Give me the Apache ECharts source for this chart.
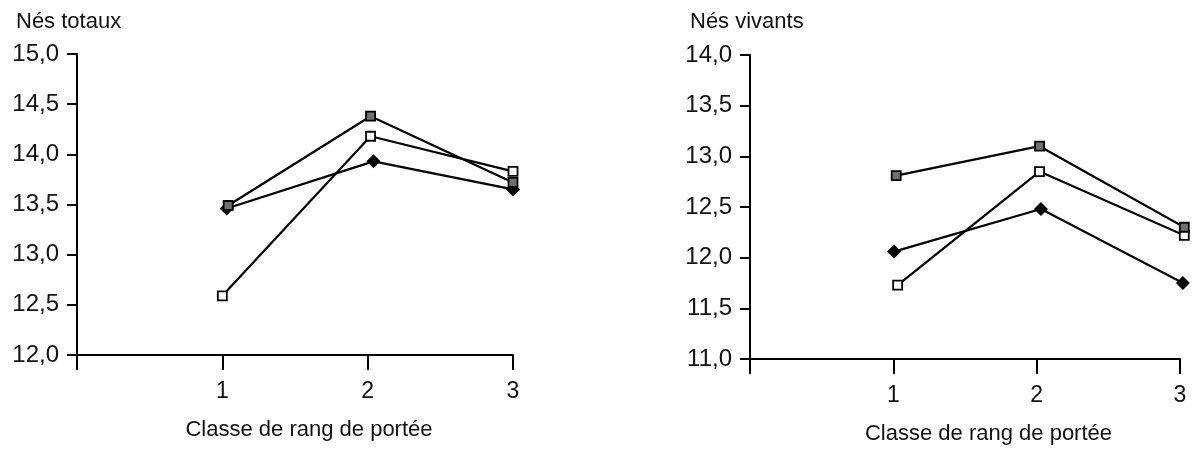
<!DOCTYPE html>
<html><head><meta charset="utf-8">
<script src="https://cdn.jsdelivr.net/npm/echarts@6/dist/echarts.min.js"></script>
<style>html,body{margin:0;padding:0;background:#fff}#c{width:1198px;height:450px}</style>
</head><body><div id="c"></div>
<script>
// ---- data ----
const xTickLabels = ['', '1', '2', '3'];
const titreGauche = 'Nés totaux';
const titreDroite = 'Nés vivants';
const nomAxeX = 'Classe de rang de portée';

// Nés totaux (left)
const totauxGrisX = [1.04, 2.02, 3.0];
const totauxGris = [13.49, 14.38, 13.72];
const totauxBlancX = [1.0, 2.02, 3.0];
const totauxBlanc = [12.59, 14.18, 13.83];
const totauxNoirX = [1.03, 2.04, 3.0];
const totauxNoir = [13.46, 13.93, 13.65];

// Nés vivants (right)
const vivantsGrisX = [1.02, 2.02, 3.03];
const vivantsGris = [12.81, 13.10, 12.30];
const vivantsBlancX = [1.03, 2.02, 3.03];
const vivantsBlanc = [11.73, 12.85, 12.22];
const vivantsNoirX = [1.005, 2.03, 3.02];
const vivantsNoir = [12.06, 12.48, 11.75];

// ---- chart ----
const FONT = 'Liberation Sans';
const INK = '#111';
const pairs = (xs, ys) => xs.map((x, i) => [x, ys[i]]);

function xAxisCfg(gridIndex) {
  return {
    gridIndex, type: 'value', min: 0, max: 3, interval: 1,
    name: nomAxeX, nameLocation: 'middle', nameGap: 64,
    nameTextStyle: { fontFamily: FONT, fontSize: 22, color: INK, padding: [0, 0, 0, gridIndex === 0 ? 28 : 47] },
    axisLine: { show: true, onZero: false, lineStyle: { color: '#000', width: 2 } },
    axisTick: { show: true, inside: false, length: 15, lineStyle: { color: '#000', width: 2 } },
    axisLabel: { show: true, margin: 25, fontFamily: FONT, fontSize: 23, color: INK,
      formatter: v => xTickLabels[Math.round(v)] },
    splitLine: { show: false }
  };
}
function yAxisCfg(gridIndex, min, max) {
  return {
    gridIndex, type: 'value', min, max, interval: 0.5,
    axisLine: { show: true, lineStyle: { color: '#000', width: 2 } },
    axisTick: { show: true, inside: false, length: 10, lineStyle: { color: '#000', width: 2 } },
    axisLabel: { show: true, margin: 18, fontFamily: FONT, fontSize: 24, color: INK,
      formatter: v => v.toFixed(1).replace('.', ',') },
    splitLine: { show: false }
  };
}
function serie(idx, data, kind) {
  const base = {
    type: 'line', xAxisIndex: idx, yAxisIndex: idx, data, clip: false,
    lineStyle: { color: '#000', width: 2.2 }, emphasis: { disabled: true }
  };
  if (kind === 'noir') return Object.assign(base, { symbol: 'diamond', symbolSize: 14,
    itemStyle: { color: '#000', borderWidth: 0 } });
  if (kind === 'gris') return Object.assign(base, { symbol: 'rect', symbolSize: 9,
    itemStyle: { color: '#707070', borderColor: '#000', borderWidth: 1.8 } });
  return Object.assign(base, { symbol: 'rect', symbolSize: 9,
    itemStyle: { color: '#fff', borderColor: '#000', borderWidth: 1.8 } });
}

const chart = echarts.init(document.getElementById('c'), null, { renderer: 'canvas' });
chart.setOption({
  animation: false,
  backgroundColor: '#fff',
  title: [
    { text: titreGauche, left: 11, top: 6, textStyle: { fontFamily: FONT, fontSize: 22, fontWeight: 'normal', color: INK } },
    { text: titreDroite, left: 685, top: 6, textStyle: { fontFamily: FONT, fontSize: 22, fontWeight: 'normal', color: INK } }
  ],
  grid: [
    { left: 77, top: 54, width: 436, height: 301 },
    { left: 750, top: 55, width: 430, height: 304 }
  ],
  xAxis: [xAxisCfg(0), xAxisCfg(1)],
  yAxis: [yAxisCfg(0, 12, 15), yAxisCfg(1, 11, 14)],
  series: [
    serie(0, pairs(totauxBlancX, totauxBlanc), 'blanc'),
    serie(0, pairs(totauxNoirX, totauxNoir), 'noir'),
    serie(0, pairs(totauxGrisX, totauxGris), 'gris'),
    serie(1, pairs(vivantsBlancX, vivantsBlanc), 'blanc'),
    serie(1, pairs(vivantsNoirX, vivantsNoir), 'noir'),
    serie(1, pairs(vivantsGrisX, vivantsGris), 'gris')
  ]
});
</script></body></html>
